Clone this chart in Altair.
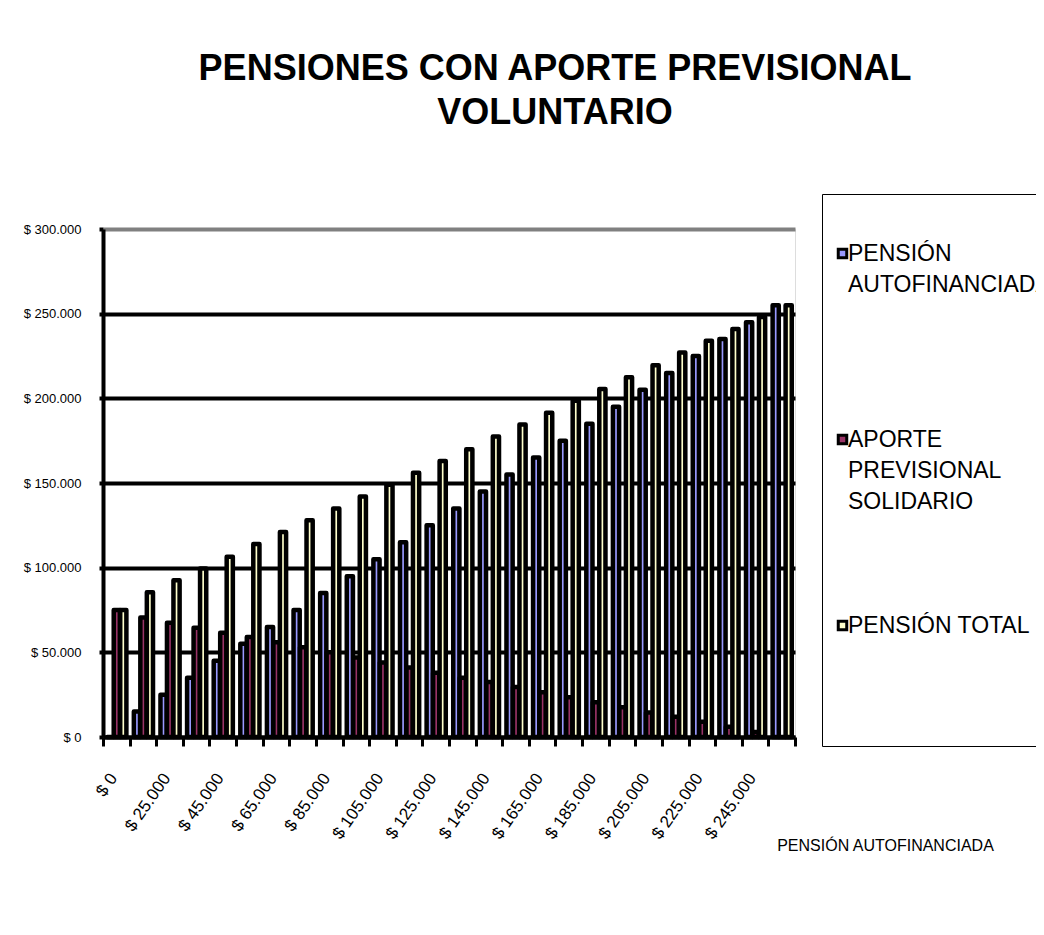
import json
import altair as alt
import pandas as pd

# ---- data ----
CATEGORIES = ["$ 0", "$ 15.000", "$ 25.000", "$ 35.000", "$ 45.000", "$ 55.000",
              "$ 65.000", "$ 75.000", "$ 85.000", "$ 95.000", "$ 105.000", "$ 115.000",
              "$ 125.000", "$ 135.000", "$ 145.000", "$ 155.000", "$ 165.000", "$ 175.000",
              "$ 185.000", "$ 195.000", "$ 205.000", "$ 215.000", "$ 225.000", "$ 235.000",
              "$ 245.000", "$ 255.000"]
PENSION_AUTOFINANCIADA = [0, 15000, 25000, 35000, 45000, 55000, 65000, 75000, 85000, 95000,
                          105000, 115000, 125000, 135000, 145000, 155000, 165000, 175000,
                          185000, 195000, 205000, 215000, 225000, 235000, 245000, 255000]
APORTE_PREVISIONAL_SOLIDARIO = [75000, 70500, 67500, 64500, 61500, 59000, 56000, 53000, 50000,
                                47000, 44000, 41000, 38000, 35000, 32500, 29500, 26500, 23500,
                                20500, 17500, 14500, 12000, 9000, 6000, 3000, 0]
PENSION_TOTAL = [75000, 85500, 92500, 99500, 106500, 114000, 121000, 128000, 135000, 142000,
                 149000, 156000, 163000, 170000, 177500, 184500, 191500, 198500, 205500,
                 212500, 219500, 227000, 234000, 241000, 248000, 255000]
SHOWN_X_LABELS = ["$ 0", "$ 25.000", "$ 45.000", "$ 65.000", "$ 85.000", "$ 105.000",
                  "$ 125.000", "$ 145.000", "$ 165.000", "$ 185.000", "$ 205.000",
                  "$ 225.000", "$ 245.000"]
Y_TICKS = [0, 50000, 100000, 150000, 200000, 250000, 300000]
SERIES = ["PENSIÓN AUTOFINANCIADA", "APORTE PREVISIONAL SOLIDARIO", "PENSIÓN TOTAL"]
COLORS = ["#9999FF", "#993366", "#FFFFCC"]
TITLE = ["PENSIONES CON APORTE PREVISIONAL", "VOLUNTARIO"]
X_TITLE = "PENSIÓN  AUTOFINANCIADA"

rows = []
for serie, values in zip(SERIES, [PENSION_AUTOFINANCIADA, APORTE_PREVISIONAL_SOLIDARIO, PENSION_TOTAL]):
    for cat, v in zip(CATEGORIES, values):
        rows.append({"categoria": cat, "serie": serie, "valor": v})
df = pd.DataFrame(rows)

FONT = "Liberation Sans"

x_label_expr = f"indexof({json.dumps(SHOWN_X_LABELS, ensure_ascii=False)}, datum.label) >= 0 ? datum.label : ''"
y_label_expr = "datum.value == 0 ? '$ 0' : '$ ' + format(datum.value / 1000, 'd') + '.000'"
# legend labels wrapped as in the reference (padded to equal line counts so rows are evenly spaced)
legend_label_expr = ("datum.label == 'PENSIÓN AUTOFINANCIADA' ? ['PENSIÓN', 'AUTOFINANCIADA', '', ''] : "
                     "datum.label == 'APORTE PREVISIONAL SOLIDARIO' ? ['APORTE', 'PREVISIONAL', 'SOLIDARIO', ''] : "
                     "[datum.label, '', '', '']")

bars = alt.Chart(df).mark_bar(
    stroke="black", strokeWidth=4.5, strokeJoin="round", width=alt.RelativeBandSize(0.95)
).encode(
    x=alt.X(
        "categoria:N", sort=CATEGORIES,
        scale=alt.Scale(paddingInner=0, paddingOuter=0),
        axis=alt.Axis(
            title=X_TITLE, titleFont=FONT, titleFontSize=16, titleFontWeight="normal",
            titleColor="black", titleX=782, titleY=108, titleAlign="center",
            titleBaseline="middle",
            labelExpr=x_label_expr, labelAngle=-55, labelAlign="right",
            labelBaseline="middle", labelPadding=29, labelOffset={"expr": "-3"}, labelFont=FONT,
            labelFontSize=17, labelColor="black", labelOverlap=False,
            tickBand="extent", tickColor="black", tickWidth=3, tickSize=9,
            domainColor="black", domainWidth=4, grid=False,
        ),
    ),
    xOffset=alt.XOffset("serie:N", sort=SERIES,
                        scale=alt.Scale(paddingOuter=0.55, paddingInner=0)),
    y=alt.Y(
        "valor:Q", scale=alt.Scale(domain=[0, 300000]),
        axis=alt.Axis(
            values=Y_TICKS, title=None, labelExpr=y_label_expr, labelFont=FONT,
            labelFontSize=13, labelColor="black", labelPadding=18,
            domainColor="black", domainWidth=4, tickColor="black", tickWidth=4, tickSize=4,
            grid=True, gridWidth=4,
            gridColor={"condition": {"test": "datum.value == 300000", "value": "#808080"},
                       "value": "black"},
        ),
    ),
    color=alt.Color(
        "serie:N", sort=SERIES, scale=alt.Scale(domain=SERIES, range=COLORS),
        legend=alt.Legend(
            title=" ", titleFontSize=10, titlePadding=23,
            orient="none", legendX=719, legendY=-35, direction="vertical",
            symbolType="square", symbolSize=72, symbolStrokeColor="black",
            symbolStrokeWidth=3, symbolOffset=-6, symbolOpacity=1,
            labelFont=FONT, labelFontSize=23, labelColor="black",
            labelLimit=400, labelOffset={"expr": "-6"}, padding=15, rowPadding=69,
            strokeColor="black", labelExpr=legend_label_expr,
        ),
    ),
)

chart = bars.properties(
    width=692, height=508,
    autosize=alt.AutoSizeParams(type="none"),
    padding={"left": 95, "top": 221, "right": 241, "bottom": 190},
    background="white",
    title=alt.TitleParams(
        text=TITLE, font=FONT, fontSize=36, fontWeight="bold", color="black",
        anchor="middle", dx=106, offset=62, lineHeight=44,
    ),
).configure_view(
    stroke="#808080", strokeWidth=3, fill="#C0C0C0"
).configure_legend(
    strokeWidth=3
).configure(
    style={"guide-label": {"lineHeight": 31}}
)

chart.save("out.html", embed_options={"renderer": "svg", "actions": False})
